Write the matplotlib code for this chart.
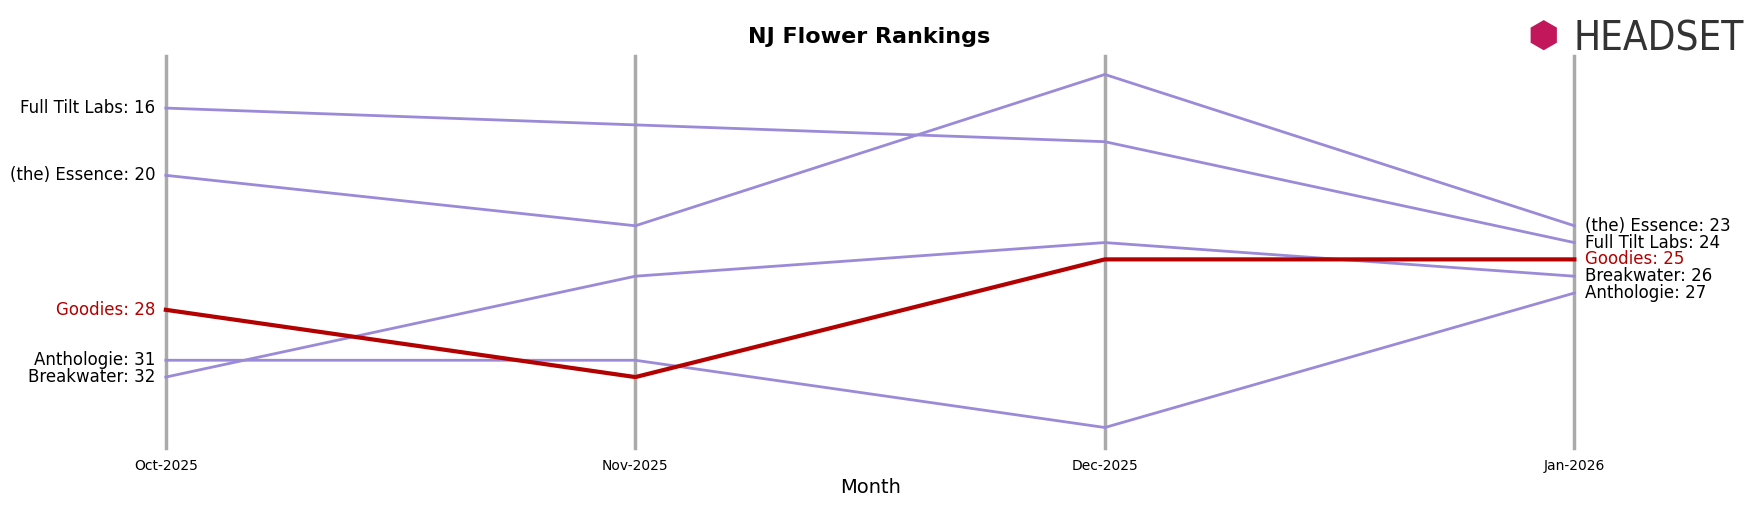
import matplotlib
matplotlib.use("Agg")
import matplotlib.pyplot as plt

months = ["Oct-2025", "Nov-2025", "Dec-2025", "Jan-2026"]
brands = ["Full Tilt Labs", "(the) Essence", "Anthologie", "Breakwater", "Goodies"]
ranks = {
    "Full Tilt Labs": [16, 17, 18, 24],
    "(the) Essence": [20, 23, 14, 23],
    "Anthologie": [31, 31, 35, 27],
    "Breakwater": [32, 26, 24, 26],
    "Goodies": [28, 32, 25, 25],
}
highlight = "Goodies"

W, H = 1568, 453
fig = plt.figure(figsize=(17.57, 5.07), dpi=100)
ax = fig.add_axes([148/W, 1-400/H, (1405-148)/W, 350/H])
x = list(range(len(months)))
for xi in x:
    ax.axvline(xi, color="#aaaaaa", lw=2.5, zorder=0, clip_on=False)
for b in brands:
    if b == highlight:
        continue
    ax.plot(x, ranks[b], color="#9b8ad8", lw=2, clip_on=False)
ax.plot(x, ranks[highlight], color="#b30000", lw=3, zorder=5, clip_on=False)

for b in brands:
    c = "#b30000" if b == highlight else "black"
    ax.text(-0.022, ranks[b][0], f"{b}: {ranks[b][0]}", ha="right", va="center", fontsize=12, color=c)
    ax.text(3.022, ranks[b][-1], f"{b}: {ranks[b][-1]}", ha="left", va="center", fontsize=12, color=c)

ax.set_ylim(36.2, 12.9)
ax.set_xlim(0, 3)
ax.set_xticks(x)
ax.set_xticklabels(months, fontsize=10)
ax.set_yticks([])
ax.tick_params(axis="x", length=0, pad=8)
for s in ax.spines.values():
    s.set_visible(False)
ax.set_xlabel("Month", fontsize=14)
fig.text(776/W, 1-33/H, "NJ Flower Rankings", ha="center", va="center", fontsize=16, fontweight="bold")
fig.text(1404/W, 1-35/H, "HEADSET", ha="left", va="center", fontsize=29, color="#333333", stretch="condensed")
fig.text(1377/W, 1-34/H, "⬢", ha="center", va="center", fontsize=26, color="#c2185b")
fig.savefig("out.png", dpi=100)
